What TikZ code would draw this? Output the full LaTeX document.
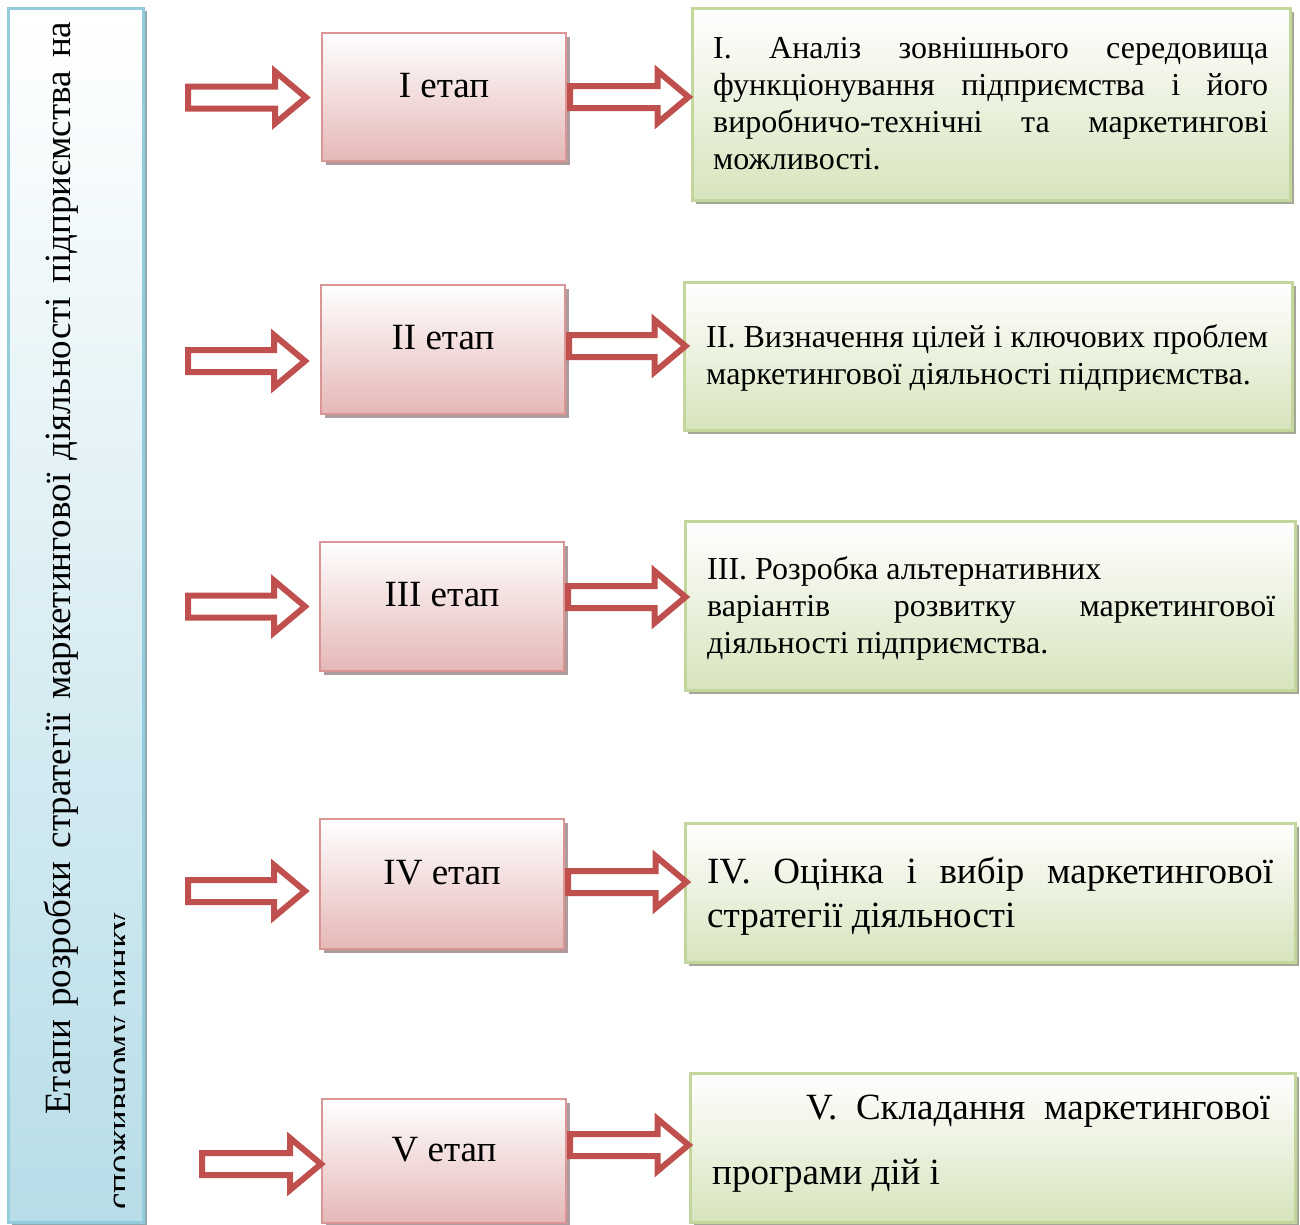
\documentclass[tikz,border=0pt]{standalone}
\usepackage{fontspec}
\setmainfont{Liberation Serif}
\usetikzlibrary{shadows,calc}
\definecolor{arrowred}{HTML}{C0504D}
\definecolor{pinkborder}{HTML}{D99694}
\definecolor{pinkbot}{HTML}{E5B8B7}
\definecolor{pinkshadow}{HTML}{AE9B9B}
\definecolor{greenborder}{HTML}{C3D69B}
\definecolor{greenbot}{HTML}{D7E4BD}
\definecolor{greenshadow}{HTML}{A3A896}
\definecolor{blueborder}{HTML}{93CDDD}
\definecolor{bluebot}{HTML}{B7DDE8}
\definecolor{blueshadow}{HTML}{8FA9B0}
\newcommand\blockarrow[2]{%
  \draw[blockarr] let \p1=(#1), \p2=(#2) in
    (\x1,\y1+11pt) -- (\x2-31pt,\y1+11pt) -- (\x2-31pt,\y1+26pt) -- (\x2,\y1)
    -- (\x2-31pt,\y1-26pt) -- (\x2-31pt,\y1-11pt) -- (\x1,\y1-11pt) -- cycle;}
\newcommand\stagefont{\fontsize{37}{43}\selectfont}
\newcommand\smallgreen{\fontsize{32}{37}\selectfont}
\newcommand\biggreen{\fontsize{37}{44}\selectfont}
\newcommand\barfont{\fontsize{37}{44}\selectfont}
\begin{document}
\begin{tikzpicture}[x=1pt,y=-1pt,
  blockarr/.style={draw=arrowred, line width=6pt, fill=white, miter limit=10},
  stagebox/.style={draw=pinkborder, line width=2pt, top color=white, bottom color=pinkbot,
    minimum width=244pt, inner sep=0pt,
    drop shadow={shadow xshift=4pt, shadow yshift=-4pt, fill=pinkshadow, opacity=1}},
  descbox/.style={draw=greenborder, line width=3pt, top color=white, bottom color=greenbot,
    inner sep=0pt,
    drop shadow={shadow xshift=4pt, shadow yshift=-4pt, fill=greenshadow, opacity=1}},
  barbox/.style={draw=blueborder, line width=3pt, top color=white, bottom color=bluebot,
    inner sep=0pt, minimum width=135pt, minimum height=1214pt,
    drop shadow={shadow xshift=4pt, shadow yshift=-3pt, fill=blueshadow, opacity=1}},
  stagetext/.style={anchor=base, inner sep=0pt, font=\stagefont},
  desctext/.style={anchor=base west, inner sep=0pt},
]
\useasboundingbox (0,0) rectangle (1300,1224);

% left bar
\node[barbox] (bar) at (75.5,615) {};
\node[rotate=90, anchor=base west, inner sep=0pt, font=\barfont] (bart1) at (70,1115)
  {\makebox[1093pt][s]{Етапи розробки стратегії маркетингової діяльності підприємства на}};
\begin{scope}
  \clip (8,8) rectangle (124,1222);
  \node[rotate=90, anchor=base west, inner sep=0pt, font=\barfont] (bart2) at (131,1210) {споживчому ринку};
\end{scope}

% stage boxes
\node[stagebox, minimum height=128pt] (p1) at (444,97) {};
\node[stagebox, minimum height=129pt] (p2) at (443,349) {};
\node[stagebox, minimum height=129pt] (p3) at (442,606) {};
\node[stagebox, minimum height=130pt] (p4) at (442,884) {};
\node[stagebox, minimum height=124pt] (p5) at (444,1161) {};
\node[stagetext] (p1t) at (p1.center) {I етап};
\node[stagetext] (p2t) at (p2.center) {II етап};
\node[stagetext] (p3t) at (p3.center) {III етап};
\node[stagetext] (p4t) at (p4.center) {IV етап};
\node[stagetext] (p5t) at (p5.center) {V етап};

% description boxes
\node[descbox, minimum width=598pt, minimum height=192pt] (g1) at (991,104) {};
\node[descbox, minimum width=608pt, minimum height=148pt] (g2) at (988,356) {};
\node[descbox, minimum width=610pt, minimum height=169pt] (g3) at (990,605.5) {};
\node[descbox, minimum width=610pt, minimum height=139pt] (g4) at (990,892.5) {};
\node[descbox, minimum width=605pt, minimum height=149pt] (g5) at (992.5,1147.5) {};

\node[desctext] (g1t) at (713,58) {\parbox[t]{555pt}{\smallgreen
  \makebox[\linewidth][s]{I. Аналіз зовнішнього середовища}\par
  \makebox[\linewidth][s]{функціонування підприємства і його}\par
  \makebox[\linewidth][s]{виробничо-технічні та маркетингові}\par
  можливості.}};
\node[desctext] (g2t) at (706,347) {\parbox[t]{562pt}{\smallgreen
  \makebox[\linewidth][s]{II. Визначення цілей і ключових проблем}\par
  маркетингової діяльності підприємства.}};
\node[desctext] (g3t) at (707,579) {\parbox[t]{568pt}{\smallgreen
  III. Розробка альтернативних\par
  \makebox[\linewidth][s]{варіантів розвитку маркетингової}\par
  діяльності підприємства.}};
\node[desctext] (g4t) at (707,883) {\parbox[t]{566pt}{\biggreen
  \makebox[\linewidth][s]{IV. Оцінка і вибір маркетингової}\par
  стратегії діяльності}};
\node[desctext] (g5t) at (712,1119) {\parbox[t]{558pt}{\fontsize{37}{65}\selectfont
  \hspace*{94pt}\makebox[464pt][s]{V. Складання маркетингової}\par
  програми дій і}};

% left arrows (free tails)
\coordinate (l1) at (188,97.5);
\coordinate (l2) at (188,361);
\coordinate (l3) at (188,606.5);
\coordinate (l4) at (188,891);
\coordinate (l5) at (202,1164);
\blockarrow{l1}{$(p1.west)+(-15,0)$}
\blockarrow{l2}{$(p2.west)+(-15,0)$}
\blockarrow{l3}{$(p3.west)+(-14,0)$}
\blockarrow{l4}{$(p4.west)+(-14,0)$}
\blockarrow{l5}{$(p5.west)+(0,0)$}

% right arrows
\blockarrow{$(p1.east)+(3,0)$}{$(g1.west)+(-2,0)$}
\blockarrow{$(p2.east)+(3,-3)$}{$(g2.west)+(3,0)$}
\blockarrow{$(p3.east)+(3,-9)$}{$(g3.west)+(2,0)$}
\blockarrow{$(p4.east)+(3,-2)$}{$(g4.west)+(3,0)$}
\blockarrow{$(p5.east)+(3,-16)$}{$(g5.west)+(0,0)$}
\end{tikzpicture}
\end{document}
